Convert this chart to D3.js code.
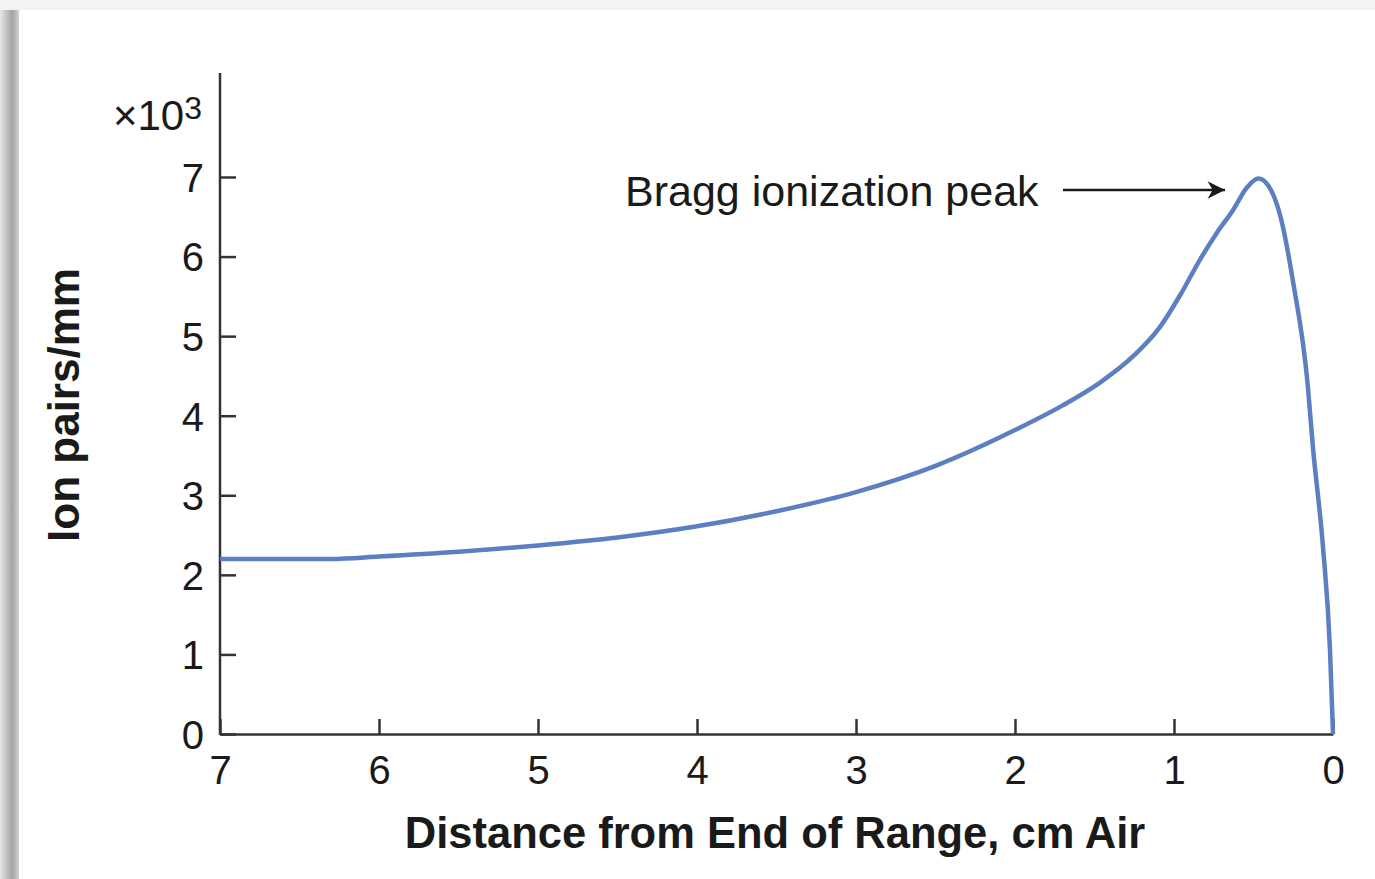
<!DOCTYPE html>
<html>
<head>
<meta charset="utf-8">
<script src="https://cdn.jsdelivr.net/npm/d3@7"></script>
<style>
  body { margin: 0; background: #fff; }
  svg text { font-family: "Liberation Sans", Arial, sans-serif; fill: #1a1a1a; }
</style>
</head>
<body>
<div id="chart-area"></div>
<script>
// data: distance (cm air) and ion pairs/mm (x1000)
const distance = [7, 6.6, 6.3, 6, 5.5, 5, 4.5, 4, 3.5, 3, 2.5, 2, 1.7, 1.47, 1.25, 1.09, 0.96, 0.84, 0.73, 0.63, 0.54, 0.47, 0.41, 0.33, 0.25, 0.16, 0.126, 0.063, 0.019, 0];
const ionPairs = [2.2, 2.2, 2.2, 2.23, 2.29, 2.37, 2.47, 2.61, 2.8, 3.04, 3.37, 3.82, 4.13, 4.41, 4.76, 5.11, 5.52, 5.95, 6.3, 6.58, 6.87, 6.98, 6.9, 6.5, 5.67, 4.41, 3.6, 2.35, 1.06, 0];

const xTicks = [7, 6, 5, 4, 3, 2, 1, 0];
const yTicks = [0, 1, 2, 3, 4, 5, 6, 7];

const W = 1375, H = 879;
const margin = { left: 220, right: 42, top: 73, bottom: 145 };

const svg = d3.select("#chart-area")
    .append("svg")
    .attr("width", W)
    .attr("height", H);

// page frame: grey top strip and shaded left edge
const defs = svg.append("defs");
const grad = defs.append("linearGradient").attr("id", "edge");
grad.append("stop").attr("offset", "0%").attr("stop-color", "#e6e6e6");
grad.append("stop").attr("offset", "65%").attr("stop-color", "#a4a4a4");
grad.append("stop").attr("offset", "100%").attr("stop-color", "#d2d2d2");

svg.append("rect").attr("width", W).attr("height", H).attr("fill", "#f3f3f3");
svg.append("rect").attr("x", 0).attr("y", 10).attr("width", 19).attr("height", H).attr("fill", "url(#edge)");
svg.append("rect").attr("x", 19).attr("y", 10).attr("width", W).attr("height", H).attr("fill", "#fff");

// scales
const x = d3.scaleLinear().domain([7, 0]).range([220, 1333]);
const y = d3.scaleLinear().domain([0, 7]).range([734, 177]);

const axisColor = "#333";

// X axis (ticks pointing up into the plot)
const xAxisGroup = svg.append("g")
    .attr("transform", "translate(0," + y(0) + ")")
    .call(d3.axisBottom(x).tickValues(xTicks).tickSize(-15).tickSizeOuter(0).tickPadding(0).tickFormat(d3.format("d")));
xAxisGroup.select(".domain").attr("stroke", axisColor).attr("stroke-width", 2.5);
xAxisGroup.selectAll(".tick line").attr("stroke", axisColor).attr("stroke-width", 2.5);
xAxisGroup.selectAll(".tick text")
    .attr("y", 50)
    .attr("dy", 0)
    .style("font-size", "40px")
    .attr("fill", "#1a1a1a");

// Y axis (ticks pointing right)
const yAxisGroup = svg.append("g")
    .attr("transform", "translate(" + x(7) + ",0)")
    .call(d3.axisLeft(y).tickValues(yTicks).tickSize(-16).tickSizeOuter(0).tickFormat(d3.format("d")));
yAxisGroup.select(".domain").remove();
yAxisGroup.append("line")
    .attr("x1", 0).attr("x2", 0)
    .attr("y1", margin.top).attr("y2", y(0) + 1)
    .attr("stroke", axisColor).attr("stroke-width", 2.5);
yAxisGroup.selectAll(".tick line").attr("stroke", axisColor).attr("stroke-width", 2.5);
yAxisGroup.selectAll(".tick text")
    .attr("x", -16)
    .attr("dy", "0.36em")
    .style("font-size", "40px")
    .attr("fill", "#1a1a1a");

// multiplier
const mult = svg.append("text")
    .attr("x", 202)
    .attr("y", 130)
    .attr("text-anchor", "end")
    .style("font-size", "42px");
mult.append("tspan").text("\u00d710");
mult.append("tspan").attr("dy", -11).style("font-size", "32px").text("3");

// curve
const pts = distance.map((d, i) => ({ d: d, v: ionPairs[i] }));
const line = d3.line()
    .x(p => x(p.d))
    .y(p => y(p.v))
    .curve(d3.curveMonotoneX);

svg.append("path")
    .datum(pts)
    .attr("d", line)
    .attr("fill", "none")
    .attr("stroke", "#5b7fc0")
    .attr("stroke-width", 4.5)
    .attr("stroke-linejoin", "round");

// annotation
svg.append("text")
    .attr("x", 625)
    .attr("y", 206)
    .style("font-size", "43px")
    .text("Bragg ionization peak");

defs.append("marker")
    .attr("id", "arrow")
    .attr("viewBox", "0 0 10 10")
    .attr("refX", 10).attr("refY", 5)
    .attr("markerWidth", 9).attr("markerHeight", 7)
    .attr("markerUnits", "strokeWidth")
    .attr("orient", "auto")
    .append("path")
    .attr("d", "M0,0 L10,5 L0,10 L3,5 Z")
    .attr("fill", "#1a1a1a");

svg.append("line")
    .attr("x1", 1063).attr("x2", 1225)
    .attr("y1", 190).attr("y2", 190)
    .attr("stroke", "#1a1a1a")
    .attr("stroke-width", 2.5)
    .attr("marker-end", "url(#arrow)");

// axis titles
svg.append("text")
    .attr("x", 775)
    .attr("y", 848)
    .attr("text-anchor", "middle")
    .style("font-size", "43.5px")
    .style("font-weight", "bold")
    .text("Distance from End of Range, cm Air");

svg.append("text")
    .attr("transform", "translate(79,405) rotate(-90)")
    .attr("text-anchor", "middle")
    .style("font-size", "44px")
    .style("font-weight", "bold")
    .text("Ion pairs/mm");
</script>
</body>
</html>
